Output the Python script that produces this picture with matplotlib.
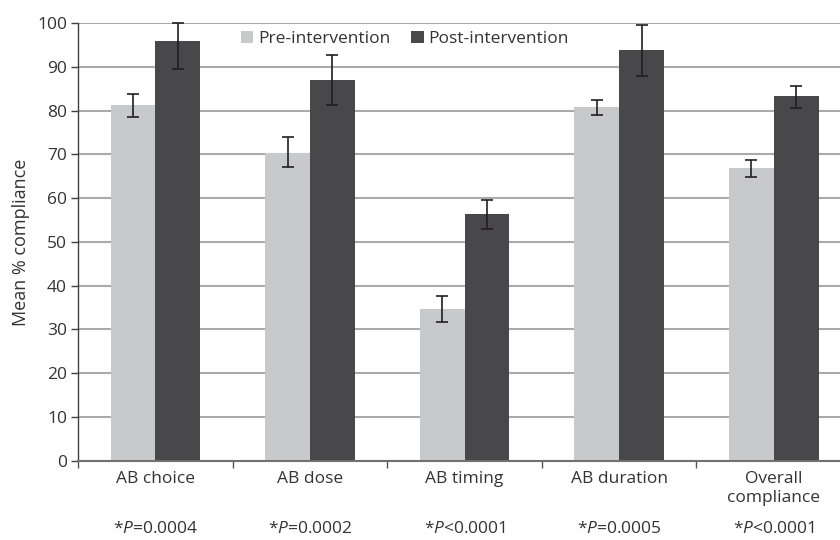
import matplotlib
matplotlib.use("Agg")
import matplotlib.pyplot as plt
import numpy as np

plt.rcParams['font.family'] = ['Open Sans', 'DejaVu Sans']
plt.rcParams['mathtext.fontset'] = 'custom'
plt.rcParams['mathtext.rm'] = 'Open Sans'
plt.rcParams['mathtext.it'] = 'Open Sans:italic'

categories = ["AB choice", "AB dose", "AB timing", "AB duration", "Overall\ncompliance"]
pre = [81.2, 70.4, 34.7, 80.8, 66.9]
pre_err_lo = [2.7, 3.4, 3.0, 1.9, 2.1]
pre_err_hi = [2.5, 3.5, 3.0, 1.7, 1.7]
post = [95.8, 86.9, 56.3, 93.9, 83.3]
post_err_lo = [6.2, 5.7, 3.3, 6.0, 2.7]
post_err_hi = [4.2, 5.7, 3.2, 5.7, 2.3]
pvals = [r"*$P$=0.0004", r"*$P$=0.0002", r"*$P$<0.0001", r"*$P$=0.0005", r"*$P$<0.0001"]

pre_color = "#c8c9cb"
post_color = "#48484a"
txt = "#333333"
fs = 12.5

fig = plt.figure(figsize=(8.4, 5.4), dpi=100)
ax = fig.add_axes([0.0929, 0.1467, 0.9202, 0.8107])

x = np.arange(len(categories))
w = 0.29
ax.bar(x - w/2, pre, w, color=pre_color, label="Pre-intervention", zorder=2)
ax.bar(x + w/2, post, w, color=post_color, label="Post-intervention", zorder=2)
ax.errorbar(x - w/2, pre, yerr=[pre_err_lo, pre_err_hi], fmt="none", ecolor="#231f20",
            elinewidth=1.2, capsize=4, capthick=1.2, zorder=3, clip_on=False)
ax.errorbar(x + w/2, post, yerr=[post_err_lo, post_err_hi], fmt="none", ecolor="#231f20",
            elinewidth=1.2, capsize=4, capthick=1.2, zorder=3, clip_on=False)

ax.set_xlim(-0.5, len(categories) - 0.5)
ax.set_ylim(0, 100)
ax.set_yticks(np.arange(0, 101, 10))
ax.yaxis.grid(True, color="#aaaaaa", linewidth=1.5, zorder=0)
ax.set_axisbelow(True)

ax.set_xticks(x)
ax.set_xticklabels(categories, fontsize=fs, color=txt, linespacing=1.25)
ax.set_xticks(np.arange(-0.5, len(categories), 1), minor=True)
ax.tick_params(axis="x", which="major", length=0, pad=7)
ax.tick_params(axis="x", which="minor", length=5, width=1, color="#555555", direction="out")
ax.tick_params(axis="y", length=5, width=1, color="#404040", labelsize=fs, labelcolor=txt, pad=3)

for s in ["top", "right"]:
    ax.spines[s].set_visible(False)
ax.spines["left"].set_color("#404040")
ax.spines["left"].set_linewidth(1)
ax.spines["bottom"].set_color("#707070")
ax.spines["bottom"].set_linewidth(1.5)

ax.set_ylabel("Mean % compliance", fontsize=13, color=txt, labelpad=5)

for xi, p in zip(x, pvals):
    ax.text(xi, -0.155, p, transform=ax.get_xaxis_transform(), ha="center", va="center",
            fontsize=fs, color=txt)

leg = ax.legend(loc="center", bbox_to_anchor=(0.423, 0.963), ncol=2, frameon=False,
                fontsize=fs, handlelength=0.7, handleheight=0.7, handletextpad=0.3,
                columnspacing=1.2, borderaxespad=0)
for t in leg.get_texts():
    t.set_color(txt)

fig.savefig("out.png", dpi=100)
